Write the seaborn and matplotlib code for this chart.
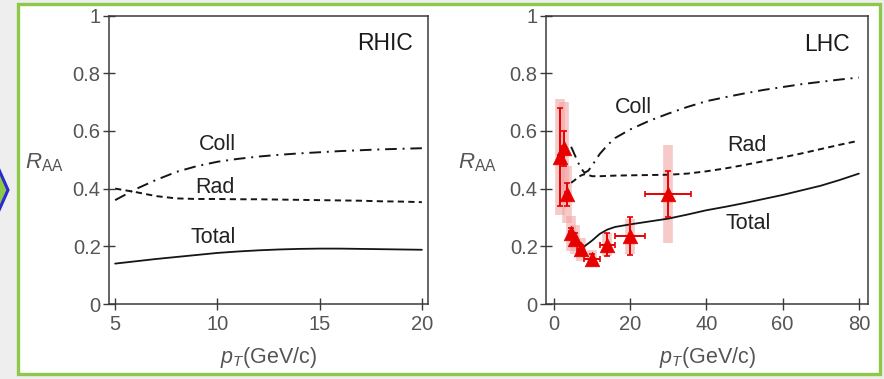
import numpy as np
import matplotlib
matplotlib.use("Agg")
import matplotlib.pyplot as plt
from matplotlib.patches import Rectangle, Polygon
from matplotlib.ticker import FuncFormatter
import seaborn as sns

# ---- RHIC model curves ----
rhic_pt = [5, 6, 7, 8, 9, 10, 11, 12, 13, 14, 15, 16, 17, 18, 19, 20]
rhic_total = [0.140, 0.148, 0.156, 0.163, 0.170, 0.177, 0.182, 0.186, 0.189,
              0.191, 0.192, 0.192, 0.191, 0.190, 0.189, 0.188]
rhic_coll = [0.360, 0.398, 0.430, 0.458, 0.478, 0.493, 0.503, 0.511, 0.517,
             0.522, 0.526, 0.530, 0.533, 0.536, 0.538, 0.540]
rhic_rad = [0.400, 0.388, 0.374, 0.366, 0.364, 0.364, 0.363, 0.363, 0.362,
            0.361, 0.360, 0.359, 0.358, 0.356, 0.355, 0.353]

# ---- LHC model curves ----
lhc_pt = [4.5, 5, 6, 7, 8, 9, 10, 12, 14, 16, 20, 25, 30, 35, 40, 45, 50,
          55, 60, 65, 70, 75, 80]
lhc_coll = [0.545, 0.530, 0.500, 0.472, 0.455, 0.462, 0.480, 0.520, 0.550,
            0.575, 0.605, 0.635, 0.660, 0.683, 0.703, 0.717, 0.730, 0.742,
            0.752, 0.762, 0.770, 0.778, 0.785]
lhc_rad = [0.420, 0.425, 0.435, 0.445, 0.450, 0.447, 0.443, 0.443, 0.444,
           0.445, 0.446, 0.447, 0.448, 0.452, 0.460, 0.470, 0.482, 0.495,
           0.508, 0.522, 0.537, 0.552, 0.566]
lhc_total_pt = [8, 9, 10, 12, 14, 16, 20, 25, 30, 35, 40, 45, 50, 55, 60,
                65, 70, 75, 80]
lhc_total = [0.200, 0.210, 0.220, 0.243, 0.258, 0.267, 0.276, 0.286, 0.296,
             0.310, 0.325, 0.337, 0.350, 0.364, 0.378, 0.394, 0.410, 0.430,
             0.452]

# ---- LHC data points ----
data_pt = [1.5, 2.5, 3.5, 4.5, 5.5, 7, 10, 14, 20, 30]
data_raa = [0.51, 0.54, 0.38, 0.245, 0.225, 0.19, 0.157, 0.205, 0.235, 0.38]
data_stat = [0.17, 0.06, 0.04, 0.02, 0.02, 0.015, 0.015, 0.04, 0.065, 0.08]
data_sys = [0.20, 0.16, 0.10, 0.06, 0.05, 0.04, 0.03, 0.04, 0.06, 0.17]
data_pt_err = [0.5, 0.5, 0.5, 0.5, 0.5, 1, 2, 2, 4, 6]

yticks = [0, 0.2, 0.4, 0.6, 0.8, 1]
rhic_xticks = [5, 10, 15, 20]
lhc_xticks = [0, 20, 40, 60, 80]

sns.set_theme(style="white")
plt.rcParams["font.family"] = ["Liberation Sans", "DejaVu Sans"]
plt.rcParams["mathtext.fontset"] = "custom"
plt.rcParams["mathtext.rm"] = "Liberation Sans"
plt.rcParams["mathtext.it"] = "Liberation Sans:italic"

W, H = 884, 379
fig = plt.figure(figsize=(W / 100, H / 100), dpi=100)
fig.patch.set_facecolor("#eeeeee")

# green frame around both panels
fig.patches.append(Rectangle((17.5 / W, 1 - 374 / H), (880 - 17.5) / W, (374 - 4) / H,
                             transform=fig.transFigure, facecolor="white",
                             edgecolor="#8dc84b", linewidth=2.4, zorder=-10))
# blue chevron at the left edge
chev = [(-14, 163), (-4, 163), (8, 190), (-4, 217), (-14, 217), (-2, 190)]
fig.patches.append(Polygon([(x / W, 1 - y / H) for x, y in chev], closed=True,
                           transform=fig.transFigure, facecolor="#8dc84b",
                           edgecolor="#2a2ad0", linewidth=2.2, zorder=-5))

ax1 = fig.add_axes([109 / W, 1 - 304 / H, 319 / W, 288.5 / H])
ax2 = fig.add_axes([546 / W, 1 - 304 / H, 322 / W, 288.5 / H])

line_col = "#151515"
dashdot = (0, (6, 3, 1, 3))
dashed = (0, (3.2, 2.2))
text_col = "#555555"
fs_tick = 14.5
fs_lab = 15.5

# RHIC panel
sns.lineplot(x=rhic_pt, y=rhic_total, ax=ax1, color=line_col, lw=1.3, errorbar=None)
sns.lineplot(x=rhic_pt, y=rhic_coll, ax=ax1, color=line_col, lw=1.4,
             linestyle=dashdot, errorbar=None)
sns.lineplot(x=rhic_pt, y=rhic_rad, ax=ax1, color=line_col, lw=1.4,
             linestyle=dashed, errorbar=None)
ax1.set_xlim(4.7, 20.3)
ax1.set_xticks(rhic_xticks)
ax1.text(10.0, 0.552, "Coll", fontsize=fs_lab, ha="center", va="center", color="#222222")
ax1.text(9.9, 0.405, "Rad", fontsize=fs_lab, ha="center", va="center", color="#222222")
ax1.text(9.8, 0.232, "Total", fontsize=fs_lab, ha="center", va="center", color="#222222")
ax1.text(18.2, 0.902, "RHIC", fontsize=16.5, ha="center", va="center", color="#1a1a1a")

# LHC panel
red = "#e60000"
ax2.errorbar(data_pt, data_raa, yerr=data_sys, fmt="none", ecolor="#f2a0a0",
             elinewidth=7, alpha=0.55, zorder=2)
ax2.errorbar(data_pt, data_raa, yerr=data_stat, xerr=data_pt_err, fmt="none",
             ecolor=red, elinewidth=1.4, capsize=2.5, capthick=1.2, zorder=3)
sns.scatterplot(x=data_pt, y=data_raa, ax=ax2, marker="^", s=110, color=red,
                edgecolor=red, linewidth=0.5, zorder=4)
sns.lineplot(x=lhc_total_pt, y=lhc_total, ax=ax2, color=line_col, lw=1.3, errorbar=None)
sns.lineplot(x=lhc_pt, y=lhc_coll, ax=ax2, color=line_col, lw=1.4,
             linestyle=dashdot, errorbar=None)
sns.lineplot(x=lhc_pt, y=lhc_rad, ax=ax2, color=line_col, lw=1.4,
             linestyle=dashed, errorbar=None)
ax2.set_xlim(-2.1, 82.4)
ax2.set_xticks(lhc_xticks)
ax2.text(20.8, 0.68, "Coll", fontsize=fs_lab, ha="center", va="center", color="#222222")
ax2.text(50.5, 0.548, "Rad", fontsize=fs_lab, ha="center", va="center", color="#222222")
ax2.text(51.0, 0.28, "Total", fontsize=fs_lab, ha="center", va="center", color="#222222")
ax2.text(71.5, 0.9, "LHC", fontsize=16.5, ha="center", va="center", color="#1a1a1a")

for ax, lx in ((ax1, -0.204), (ax2, -0.214)):
    ax.set_ylim(0, 1)
    ax.set_yticks(yticks)
    ax.yaxis.set_major_formatter(FuncFormatter(lambda v, p: f"{v:g}"))
    ax.set_facecolor("white")
    for s in ax.spines.values():
        s.set_visible(True)
        s.set_color("#3a3a3a")
        s.set_linewidth(1.1)
    ax.tick_params(axis="both", direction="inout", length=8, width=1.0,
                   color="#3a3a3a", labelsize=fs_tick, labelcolor=text_col,
                   bottom=True, left=True, top=False, right=False)
    ax.tick_params(axis="y", pad=2)
    ax.tick_params(axis="x", pad=4)
    ax.set_ylabel(r"$R_{\mathrm{AA}}$", rotation=0, fontsize=16, color=text_col,
                  ha="center", va="center")
    ax.yaxis.set_label_coords(lx, 0.49)
    ax.set_xlabel(r"$p_T$(GeV/c)", fontsize=15.5, color=text_col, va="center")
    ax.xaxis.set_label_coords(0.5, -0.184)

fig.savefig("out.png", dpi=100, facecolor=fig.get_facecolor())
